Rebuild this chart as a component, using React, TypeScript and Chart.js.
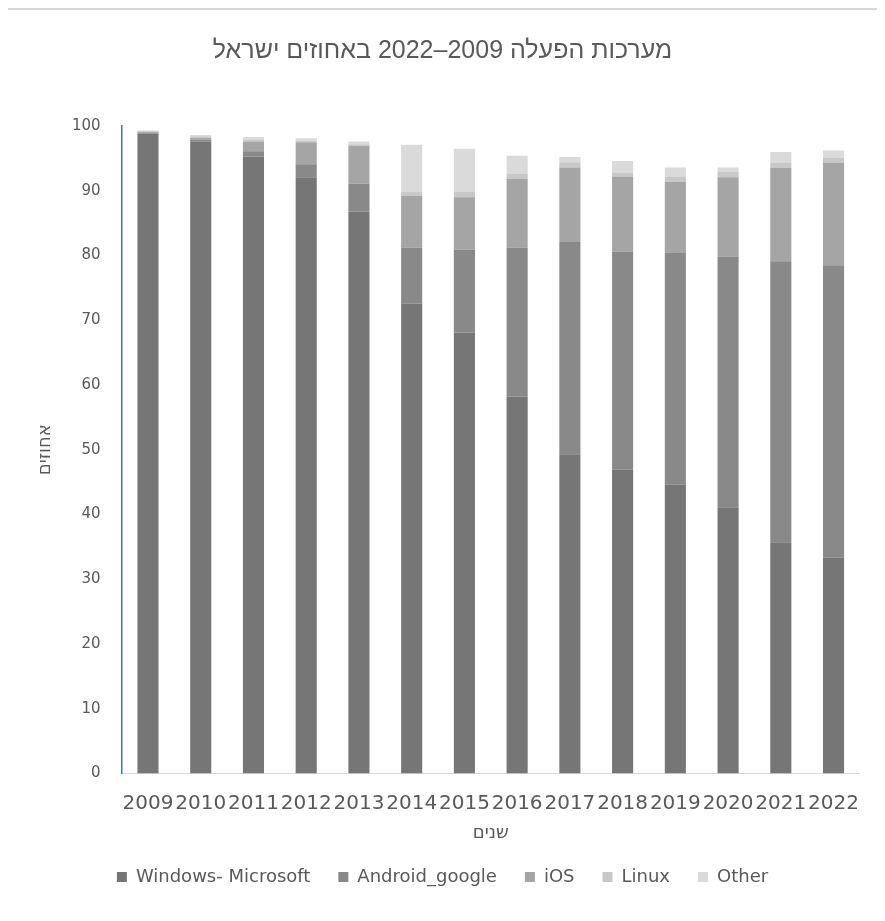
import React, { useEffect, useRef } from "react";
import { Chart, registerables } from "chart.js";

Chart.register(...registerables);

const years = ["2009", "2010", "2011", "2012", "2013", "2014", "2015", "2016", "2017", "2018", "2019", "2020", "2021", "2022"];
const windowsMicrosoft = [98.8, 97.6, 95.3, 92.1, 86.8, 72.6, 68.1, 58.2, 49.3, 46.9, 44.6, 41.1, 35.7, 33.3];
const androidGoogle = [0.2, 0.3, 0.8, 2.0, 4.3, 8.6, 12.8, 23.0, 32.8, 33.7, 35.8, 38.7, 43.4, 45.2];
const iosShare = [0.1, 0.3, 1.5, 3.4, 5.8, 8.0, 8.1, 10.6, 11.5, 11.6, 11.0, 12.3, 14.4, 15.8];
const linuxShare = [0.1, 0.2, 0.3, 0.2, 0.3, 0.6, 0.8, 0.8, 0.8, 0.6, 0.8, 0.8, 0.8, 0.8];
const otherShare = [0.1, 0.2, 0.4, 0.4, 0.4, 7.3, 6.7, 2.8, 0.8, 1.8, 1.4, 0.7, 1.7, 1.1];

const seriesNames = ["Windows- Microsoft", "Android_google", "iOS", "Linux", "Other"];
const seriesColors = ["#767676", "#898989", "#a5a5a5", "#c8c8c8", "#dadada"];

const titleText = "מערכות הפעלה 2009–2022 באחוזים ישראל";
const yTitle = "אחוזים";
const xTitle = "שנים";

const FONT = "'DejaVu Sans', sans-serif";
const TITLE_FONT = "'Liberation Sans', Arial, sans-serif";
const TEXT = "#595959";

export default function App() {
  const canvasRef = useRef<HTMLCanvasElement | null>(null);

  useEffect(() => {
    if (!canvasRef.current) return;
    const values = [windowsMicrosoft, androidGoogle, iosShare, linuxShare, otherShare];
    const chart = new Chart(canvasRef.current, {
      type: "bar",
      data: {
        labels: years,
        datasets: seriesNames.map((name, i) => ({
          label: name,
          data: values[i],
          backgroundColor: seriesColors[i],
          borderWidth: 0,
          categoryPercentage: 1,
          barPercentage: 0.4,
        })),
      },
      options: {
        animation: false,
        responsive: true,
        maintainAspectRatio: false,
        layout: { padding: { top: 0, left: 0, right: 0, bottom: 14 } },
        plugins: {
          tooltip: { enabled: false },
          title: {
            display: true,
            text: titleText,
            color: TEXT,
            font: { family: TITLE_FONT, size: 25, weight: "normal", lineHeight: 1.2 },
            padding: { top: 26, bottom: 60 },
          },
          legend: {
            position: "bottom",
            labels: {
              color: TEXT,
              font: { family: FONT, size: 18 },
              boxWidth: 10,
              boxHeight: 10,
              padding: 28,
            },
          },
        },
        scales: {
          x: {
            stacked: true,
            grid: { display: false, drawTicks: false },
            border: { display: true, color: "#d9d9d9", width: 1 },
            ticks: {
              color: TEXT,
              font: { family: FONT, size: 20, lineHeight: 1.2 },
              autoSkip: false,
              maxRotation: 0,
              minRotation: 0,
              padding: 18,
            },
            title: {
              display: true,
              text: xTitle,
              color: TEXT,
              font: { family: FONT, size: 18, lineHeight: 1.2 },
              padding: { top: -11.2, bottom: -3.8 },
            },
          },
          y: {
            stacked: true,
            min: 0,
            max: 100,
            grid: { display: false, drawTicks: false },
            border: { display: true, color: "#4472c4", width: 1.5 },
            ticks: {
              stepSize: 10,
              color: TEXT,
              font: { family: FONT, size: 15 },
              padding: 21,
            },
            title: {
              display: true,
              text: yTitle,
              color: TEXT,
              font: { family: FONT, size: 18, lineHeight: 1.2 },
              padding: { top: 26.2, bottom: -4.8 },
            },
          },
        },
      },
    });
    return () => chart.destroy();
  }, []);

  return (
    <div>
      <div style={{ borderTop: "2px solid #d9d9d9", marginLeft: -3, marginRight: -8 }} />
      <div style={{ position: "relative", width: 869, height: 900 }}>
        <canvas ref={canvasRef} />
      </div>
    </div>
  );
}
